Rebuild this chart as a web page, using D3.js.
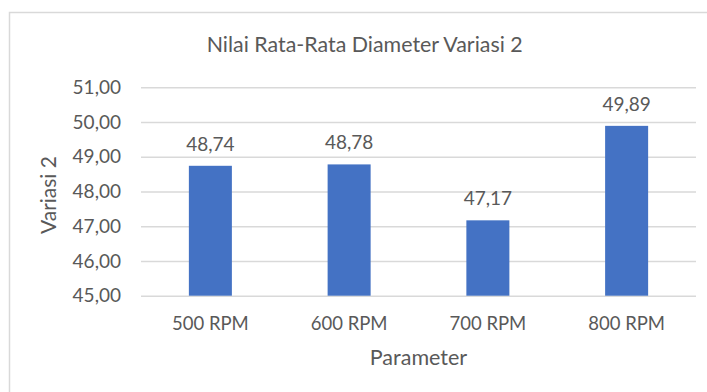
<!DOCTYPE html>
<html><head><meta charset="utf-8">
<script src="https://cdn.jsdelivr.net/npm/d3@7"></script>
<style>body{margin:0;background:#fff}svg{display:block}text{font-family:Lato,"Open Sans",sans-serif;fill:#595959}</style>
</head><body>
<script>
const categories = ["500 RPM","600 RPM","700 RPM","800 RPM"];
const values = [48.74, 48.78, 47.17, 49.89];
const yTicks = [45,46,47,48,49,50,51];
const title = "Nilai Rata-Rata Diameter Variasi 2";
const xTitle = "Parameter";
const yTitle = "Variasi 2";

const W = 707, H = 392;
const svg = d3.select("body").append("svg").attr("width", W).attr("height", H);
svg.append("rect").attr("x", 9.5).attr("y", 12.5).attr("width", 720).attr("height", 400)
  .attr("fill", "#fff").attr("stroke", "#d9d9d9").attr("stroke-width", 1.5);

const x = d3.scaleBand().domain(categories).range([141, 696]).paddingInner(0.69).paddingOuter(0.345);
const y = d3.scaleLinear().domain([45, 51]).range([295.7, 87.3]);
const fmt = v => d3.format(".2f")(v).replace(".", ",");

const yAxis = svg.append("g").attr("transform", "translate(141,0)")
  .call(d3.axisLeft(y).tickValues(yTicks).tickSize(-555).tickFormat(fmt).tickPadding(20));
yAxis.select(".domain").remove();
yAxis.selectAll(".tick line").attr("stroke", "#d9d9d9").attr("stroke-width", 1.5);
yAxis.selectAll(".tick text").attr("font-size", 19).attr("font-family", "Lato").attr("fill", "#595959");

svg.append("g").selectAll("rect").data(values).join("rect")
  .attr("x", (d, i) => x(categories[i])).attr("width", x.bandwidth())
  .attr("y", d => y(d)).attr("height", d => y(45) - y(d)).attr("fill", "#4472c4");

svg.append("g").selectAll("text").data(values).join("text")
  .attr("x", (d, i) => x(categories[i]) + x.bandwidth() / 2)
  .attr("y", d => y(d) - 15).attr("text-anchor", "middle").attr("font-size", 19)
  .text(d => fmt(d));

const xAxis = svg.append("g").attr("transform", "translate(0,295.7)")
  .call(d3.axisBottom(x).tickSize(0).tickPadding(21));
xAxis.select(".domain").remove();
xAxis.selectAll(".tick text").attr("font-size", 18.5).attr("font-family", "Lato").attr("fill", "#595959");

svg.append("text").attr("x", 364.7).attr("y", 52).attr("text-anchor", "middle").attr("font-size", 21.4).text(title);
svg.append("text").attr("x", 418.5).attr("y", 365).attr("text-anchor", "middle").attr("font-size", 21.5).text(xTitle);
svg.append("text").attr("transform", "translate(56,195) rotate(-90)").attr("text-anchor", "middle").attr("font-size", 21).text(yTitle);
</script>
</body></html>
